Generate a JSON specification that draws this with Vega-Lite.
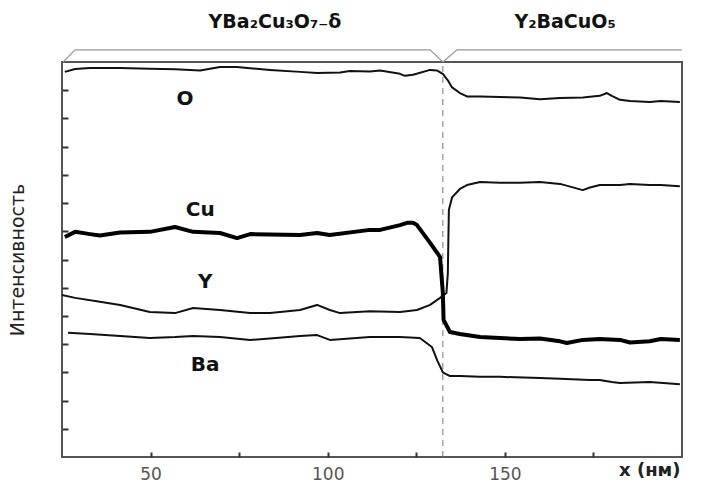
{
  "$schema": "https://vega.github.io/schema/vega-lite/v6.json",
  "autosize": "none",
  "width": 620,
  "height": 395,
  "padding": {"left": 62, "top": 62, "right": 19, "bottom": 31},
  "background": "white",
  "config": {
    "view": {"stroke": "#555", "strokeWidth": 2},
    "font": "DejaVu Sans"
  },
  "datasets": {
    "curves": [
      {"el":"O","x":25.8,"y":13.65},{"el":"O","x":28.7,"y":13.75},{"el":"O","x":32.9,"y":13.79},{"el":"O","x":41.4,"y":13.79},{"el":"O","x":49.8,"y":13.76},{"el":"O","x":56.9,"y":13.74},{"el":"O","x":64,"y":13.7},{"el":"O","x":69.6,"y":13.82},{"el":"O","x":74.4,"y":13.82},{"el":"O","x":78.1,"y":13.78},{"el":"O","x":83.7,"y":13.72},{"el":"O","x":92.2,"y":13.65},{"el":"O","x":97,"y":13.61},{"el":"O","x":103.5,"y":13.63},{"el":"O","x":106.3,"y":13.68},{"el":"O","x":111.9,"y":13.66},{"el":"O","x":114.8,"y":13.7},{"el":"O","x":120.4,"y":13.58},{"el":"O","x":121.8,"y":13.51},{"el":"O","x":124.1,"y":13.55},{"el":"O","x":128.9,"y":13.72},{"el":"O","x":130.8,"y":13.7},{"el":"O","x":132.5,"y":13.58},{"el":"O","x":133.9,"y":13.35},{"el":"O","x":135.1,"y":13.1},{"el":"O","x":137.3,"y":12.9},{"el":"O","x":139.3,"y":12.78},{"el":"O","x":143,"y":12.78},{"el":"O","x":148.6,"y":12.76},{"el":"O","x":154.3,"y":12.74},{"el":"O","x":159.9,"y":12.68},{"el":"O","x":165.6,"y":12.72},{"el":"O","x":172,"y":12.74},{"el":"O","x":176.8,"y":12.8},{"el":"O","x":178.8,"y":12.9},{"el":"O","x":180.2,"y":12.8},{"el":"O","x":182.5,"y":12.66},{"el":"O","x":185.3,"y":12.62},{"el":"O","x":190.9,"y":12.58},{"el":"O","x":194,"y":12.62},{"el":"O","x":199.4,"y":12.58},
      {"el":"Cu","x":25.8,"y":7.8},{"el":"Cu","x":28.7,"y":7.98},{"el":"Cu","x":32.9,"y":7.9},{"el":"Cu","x":35.7,"y":7.85},{"el":"Cu","x":41.4,"y":7.96},{"el":"Cu","x":49.8,"y":7.98},{"el":"Cu","x":56.9,"y":8.15},{"el":"Cu","x":62,"y":7.98},{"el":"Cu","x":69.6,"y":7.94},{"el":"Cu","x":74.4,"y":7.76},{"el":"Cu","x":78.1,"y":7.9},{"el":"Cu","x":92.2,"y":7.87},{"el":"Cu","x":97,"y":7.94},{"el":"Cu","x":100.6,"y":7.87},{"el":"Cu","x":111.9,"y":8.05},{"el":"Cu","x":114.8,"y":8.05},{"el":"Cu","x":120.4,"y":8.22},{"el":"Cu","x":122.4,"y":8.3},{"el":"Cu","x":124.1,"y":8.3},{"el":"Cu","x":125.2,"y":8.22},{"el":"Cu","x":128.9,"y":7.59},{"el":"Cu","x":131.7,"y":7.09},{"el":"Cu","x":132.5,"y":5.81},{"el":"Cu","x":132.7,"y":4.86},{"el":"Cu","x":134.5,"y":4.43},{"el":"Cu","x":137.3,"y":4.36},{"el":"Cu","x":143,"y":4.25},{"el":"Cu","x":148.6,"y":4.22},{"el":"Cu","x":154.3,"y":4.18},{"el":"Cu","x":159.9,"y":4.2},{"el":"Cu","x":165.6,"y":4.1},{"el":"Cu","x":167.5,"y":4.04},{"el":"Cu","x":172,"y":4.15},{"el":"Cu","x":176.8,"y":4.18},{"el":"Cu","x":182.5,"y":4.15},{"el":"Cu","x":185.3,"y":4.06},{"el":"Cu","x":190.9,"y":4.1},{"el":"Cu","x":194,"y":4.18},{"el":"Cu","x":199.4,"y":4.15},
      {"el":"Y","x":25,"y":5.74},{"el":"Y","x":28.7,"y":5.64},{"el":"Y","x":35.7,"y":5.5},{"el":"Y","x":41.4,"y":5.39},{"el":"Y","x":49.8,"y":5.14},{"el":"Y","x":56.9,"y":5.1},{"el":"Y","x":62,"y":5.28},{"el":"Y","x":69.6,"y":5.21},{"el":"Y","x":78.1,"y":5.1},{"el":"Y","x":83.7,"y":5.1},{"el":"Y","x":92.2,"y":5.21},{"el":"Y","x":97,"y":5.39},{"el":"Y","x":100.6,"y":5.21},{"el":"Y","x":103.5,"y":5.1},{"el":"Y","x":111.9,"y":5.17},{"el":"Y","x":120.4,"y":5.14},{"el":"Y","x":125.2,"y":5.21},{"el":"Y","x":128.9,"y":5.39},{"el":"Y","x":131.7,"y":5.64},{"el":"Y","x":133.5,"y":5.81},{"el":"Y","x":133.9,"y":6.5},{"el":"Y","x":134.2,"y":8.76},{"el":"Y","x":135.1,"y":9.2},{"el":"Y","x":137.3,"y":9.5},{"el":"Y","x":139.3,"y":9.64},{"el":"Y","x":143,"y":9.75},{"el":"Y","x":148.6,"y":9.72},{"el":"Y","x":154.3,"y":9.72},{"el":"Y","x":159.9,"y":9.75},{"el":"Y","x":165.6,"y":9.68},{"el":"Y","x":172,"y":9.46},{"el":"Y","x":174,"y":9.55},{"el":"Y","x":176.8,"y":9.64},{"el":"Y","x":182.5,"y":9.64},{"el":"Y","x":185.3,"y":9.68},{"el":"Y","x":190.9,"y":9.64},{"el":"Y","x":194,"y":9.64},{"el":"Y","x":199.4,"y":9.6},
      {"el":"Ba","x":26.7,"y":4.4},{"el":"Ba","x":32.9,"y":4.36},{"el":"Ba","x":41.4,"y":4.29},{"el":"Ba","x":49.8,"y":4.22},{"el":"Ba","x":56.9,"y":4.25},{"el":"Ba","x":62,"y":4.29},{"el":"Ba","x":69.6,"y":4.25},{"el":"Ba","x":78.1,"y":4.15},{"el":"Ba","x":83.7,"y":4.2},{"el":"Ba","x":92.2,"y":4.29},{"el":"Ba","x":97,"y":4.32},{"el":"Ba","x":100.6,"y":4.15},{"el":"Ba","x":111.9,"y":4.25},{"el":"Ba","x":120.4,"y":4.25},{"el":"Ba","x":126,"y":4.22},{"el":"Ba","x":129.4,"y":3.9},{"el":"Ba","x":131,"y":3.4},{"el":"Ba","x":132.5,"y":3.0},{"el":"Ba","x":134.5,"y":2.87},{"el":"Ba","x":137.3,"y":2.87},{"el":"Ba","x":143,"y":2.84},{"el":"Ba","x":148.6,"y":2.84},{"el":"Ba","x":159.9,"y":2.8},{"el":"Ba","x":165.6,"y":2.77},{"el":"Ba","x":174,"y":2.73},{"el":"Ba","x":176.8,"y":2.73},{"el":"Ba","x":180.2,"y":2.66},{"el":"Ba","x":182.5,"y":2.62},{"el":"Ba","x":190.9,"y":2.66},{"el":"Ba","x":199.4,"y":2.58}
    ],
    "brackets": [
      {"b":"L","o":1,"x":25.3,"y":14.0},{"b":"L","o":2,"x":28.7,"y":14.43},{"b":"L","o":3,"x":128.9,"y":14.43},{"b":"L","o":4,"x":132.5,"y":14.0},
      {"b":"R","o":1,"x":132.5,"y":14.0},{"b":"R","o":2,"x":136.5,"y":14.43},{"b":"R","o":3,"x":200,"y":14.43}
    ],
    "labels": [
      {"t":"O","x":59.7,"y":12.69},
      {"t":"Cu","x":64,"y":8.76},
      {"t":"Y","x":65.4,"y":6.2},
      {"t":"Ba","x":65.4,"y":3.26}
    ],
    "headers": [
      {"t":"YBa₂Cu₃O₇₋δ","x":85.1,"y":15.42},
      {"t":"Y₂BaCuO₅","x":167,"y":15.42}
    ]
  },
  "layer": [
    {
      "data": {"values": [{"x": 132.5, "y0": 0, "y1": 14}]},
      "mark": {"type": "rule", "color": "#777", "strokeWidth": 1, "strokeDash": [6, 5]},
      "encoding": {
        "x": {"field": "x", "type": "quantitative", "scale": {"domain": [25, 200], "nice": false, "zero": false},
          "axis": {"values": [50, 75, 100, 125, 150, 175], "tickCount": 20, "labelExpr": "datum.value % 50 === 0 ? datum.label : ''", "tickSize": -5, "tickColor": "#333", "tickWidth": 2, "labelPadding": 14, "labelFontSize": 17, "labelColor": "#555", "labelFont": "DejaVu Sans", "domain": false, "grid": false, "title": null}},
        "y": {"field": "y0", "type": "quantitative", "scale": {"domain": [0, 14], "nice": false},
          "axis": {"values": [1,2,3,4,5,6,7,8,9,10,11,12,13], "tickCount": 20, "labels": false, "tickSize": -6, "tickColor": "#333", "tickWidth": 2, "domain": false, "grid": false, "title": "Интенсивность", "titleFont": "DejaVu Sans", "titleFontSize": 19, "titleFontWeight": "normal", "titleColor": "#222", "titlePadding": 34}},
        "y2": {"field": "y1"}
      }
    },
    {
      "data": {"name": "brackets"},
      "mark": {"type": "line", "color": "#999", "strokeWidth": 1.2, "clip": false},
      "encoding": {
        "x": {"field": "x", "type": "quantitative"},
        "y": {"field": "y", "type": "quantitative"},
        "detail": {"field": "b"},
        "order": {"field": "o"}
      }
    },
    {
      "data": {"name": "curves"},
      "transform": [{"filter": "datum.el !== 'Cu'"}],
      "mark": {"type": "line", "color": "#111", "strokeWidth": 2, "strokeJoin": "round"},
      "encoding": {
        "x": {"field": "x", "type": "quantitative"},
        "y": {"field": "y", "type": "quantitative"},
        "detail": {"field": "el"}
      }
    },
    {
      "data": {"name": "curves"},
      "transform": [{"filter": "datum.el === 'Cu'"}],
      "mark": {"type": "line", "color": "#000", "strokeWidth": 4, "strokeJoin": "round"},
      "encoding": {
        "x": {"field": "x", "type": "quantitative"},
        "y": {"field": "y", "type": "quantitative"}
      }
    },
    {
      "data": {"name": "labels"},
      "mark": {"type": "text", "font": "DejaVu Sans", "fontWeight": "bold", "fontSize": 20, "color": "#111"},
      "encoding": {
        "x": {"field": "x", "type": "quantitative"},
        "y": {"field": "y", "type": "quantitative"},
        "text": {"field": "t"}
      }
    },
    {
      "data": {"name": "headers"},
      "mark": {"type": "text", "font": "DejaVu Sans", "fontWeight": "bold", "fontSize": 19, "color": "#111", "clip": false},
      "encoding": {
        "x": {"field": "x", "type": "quantitative"},
        "y": {"field": "y", "type": "quantitative"},
        "text": {"field": "t"}
      }
    },
    {
      "data": {"values": [{"t": "x (нм)", "x": 190.9, "y": -0.5}]},
      "mark": {"type": "text", "font": "DejaVu Sans", "fontWeight": "bold", "fontSize": 18, "color": "#222", "clip": false},
      "encoding": {
        "x": {"field": "x", "type": "quantitative"},
        "y": {"field": "y", "type": "quantitative"},
        "text": {"field": "t"}
      }
    }
  ]
}
